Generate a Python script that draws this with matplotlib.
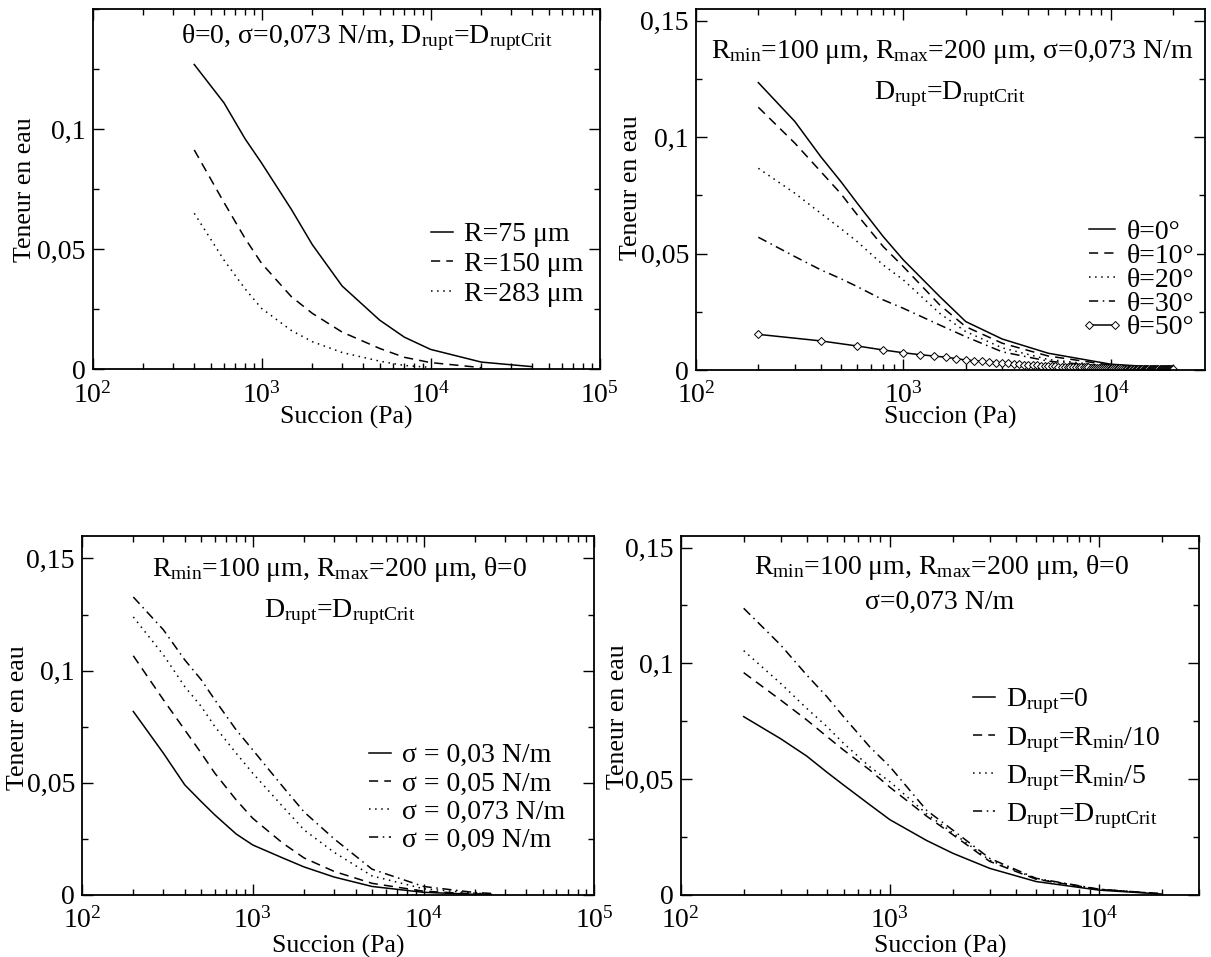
import matplotlib
matplotlib.use('Agg')
import matplotlib.pyplot as plt
from matplotlib.legend_handler import HandlerLine2D
from matplotlib.ticker import (FixedLocator, FuncFormatter, LogLocator,
                               LogFormatterMathtext, MultipleLocator, NullFormatter)

plt.rcParams['font.family'] = 'Liberation Serif'
plt.rcParams['mathtext.fontset'] = 'custom'
plt.rcParams['mathtext.rm'] = 'Liberation Serif'
plt.rcParams['mathtext.it'] = 'Liberation Serif:italic'
plt.rcParams['mathtext.bf'] = 'Liberation Serif:bold'

# ---- data ----
# panel 1: effect of the grain radius
suc_radius = [400, 600, 800, 1000, 1500, 2000, 3000, 5000, 7000, 10000, 20000, 40000]
w_r75 = [0.127, 0.111, 0.096, 0.086, 0.0667, 0.0519, 0.0347, 0.0205, 0.0134, 0.0083, 0.0030, 0.0011]
w_r150 = [0.0914, 0.0695, 0.0545, 0.0442, 0.0303, 0.0233, 0.0155, 0.0087, 0.0050, 0.0028, 0.0007]
w_r283 = [0.065, 0.0455, 0.0335, 0.0254, 0.0162, 0.0115, 0.0070, 0.0034, 0.0016, 0.0008]

# panel 2: effect of the contact angle
suc_theta = [200, 300, 400, 500, 600, 800, 1000, 1500, 2000, 3000, 5000, 10000, 20000]
w_t0 = [0.1234, 0.1067, 0.0916, 0.0809, 0.0716, 0.0573, 0.0473, 0.0315, 0.0208, 0.0133, 0.0072, 0.0025, 0.0008]
w_t10 = [0.1128, 0.0974, 0.0852, 0.0757, 0.0666, 0.0530, 0.0444, 0.0279, 0.0186, 0.0115, 0.0060, 0.0021, 0.0007]
w_t20 = [0.0866, 0.0759, 0.0673, 0.0607, 0.0551, 0.0451, 0.0387, 0.0243, 0.0165, 0.0095, 0.0045, 0.0016, 0.0005]
w_t30 = [0.0570, 0.0487, 0.0430, 0.0392, 0.0358, 0.0301, 0.0265, 0.0193, 0.0143, 0.0078, 0.0038, 0.0013, 0.0004]
suc_t50 = list(range(200, 20001, 200))
w_t50 = [0.0153, 0.0125, 0.0103, 0.0086, 0.0074, 0.0066, 0.0060, 0.0055, 0.0049, 0.0043,
         0.0040, 0.0037, 0.0034, 0.0032, 0.0030, 0.0028, 0.0026, 0.0025, 0.0023, 0.0022,
         0.0021, 0.0020, 0.0019, 0.0018, 0.0017, 0.0017, 0.0016, 0.0015, 0.0015, 0.0014,
         0.0014, 0.0013, 0.0013, 0.0012, 0.0012, 0.0012, 0.0011, 0.0011, 0.0011, 0.0010,
         0.0010, 0.0010, 0.0009, 0.0009, 0.0009, 0.0009, 0.0008, 0.0008, 0.0008, 0.0008,
         0.0008, 0.0007, 0.0007, 0.0007, 0.0007, 0.0007, 0.0006, 0.0006, 0.0006, 0.0006,
         0.0006, 0.0006, 0.0006, 0.0005, 0.0005, 0.0005, 0.0005, 0.0005, 0.0005, 0.0005,
         0.0005, 0.0005, 0.0004, 0.0004, 0.0004, 0.0004, 0.0004, 0.0004, 0.0004, 0.0004,
         0.0004, 0.0004, 0.0004, 0.0004, 0.0004, 0.0004, 0.0004, 0.0004, 0.0004, 0.0004,
         0.0004, 0.0004, 0.0003, 0.0003, 0.0003, 0.0003, 0.0003, 0.0003, 0.0003, 0.0003]

# panel 3: effect of surface tension
suc_sigma = [200, 300, 400, 500, 600, 800, 1000, 1500, 2000, 3000, 5000, 10000, 20000, 25000]
w_s03 = [0.0818, 0.0632, 0.0491, 0.0416, 0.0357, 0.0272, 0.0223, 0.0165, 0.0125, 0.0080, 0.0038, 0.0012, 0.0003, 0.0002]
w_s05 = [0.1066, 0.0870, 0.0736, 0.0632, 0.0543, 0.0424, 0.0342, 0.0231, 0.0165, 0.0105, 0.0052, 0.0017, 0.0005, 0.0003]
w_s073 = [0.1239, 0.1070, 0.0929, 0.0840, 0.0751, 0.0632, 0.0543, 0.0394, 0.0290, 0.0190, 0.0085, 0.0028, 0.0008, 0.0005]
w_s09 = [0.1328, 0.1182, 0.1048, 0.0959, 0.0870, 0.0736, 0.0647, 0.0483, 0.0370, 0.0250, 0.0115, 0.0038, 0.0011, 0.0007]

# panel 4: effect of the rupture distance
suc_drupt = [200, 300, 400, 500, 600, 800, 1000, 1500, 2000, 3000, 5000, 10000, 20000]
w_d0 = [0.0770, 0.0675, 0.0600, 0.0530, 0.0475, 0.0390, 0.0325, 0.0235, 0.0180, 0.0115, 0.0058, 0.0021, 0.0004]
w_d10 = [0.0960, 0.0842, 0.0756, 0.0684, 0.0626, 0.0540, 0.0465, 0.0340, 0.0260, 0.0145, 0.0068, 0.0024, 0.0005]
w_d5 = [0.1055, 0.0914, 0.0806, 0.0727, 0.0655, 0.0554, 0.0489, 0.0350, 0.0268, 0.0150, 0.0070, 0.0025, 0.0005]
w_dcrit = [0.1238, 0.1080, 0.0950, 0.0856, 0.0770, 0.0640, 0.0554, 0.0365, 0.0280, 0.0158, 0.0072, 0.0025, 0.0005]

# ---- styles ----
W, H = 1211, 957
LW = 1.1
FS = 20
SOLID = '-'
DASHED = (0, (6, 4))
DOTTED = (0, (1, 3))
DASHDOT = (0, (6, 3, 1, 3))

fig = plt.figure(figsize=(W / 100, H / 100), dpi=100)


def px_axes(left, top, right, bottom):
    return fig.add_axes([left / W, 1 - bottom / H, (right - left) / W, (bottom - top) / H])


def comma(v, pos):
    if abs(v) < 1e-12:
        return '0'
    return ('%g' % v).replace('.', ',')


def style_axes(ax, xmax, ymax, yticks):
    ax.set_xscale('log')
    ax.set_xlim(100, xmax)
    ax.set_ylim(0, ymax)
    ax.xaxis.set_major_locator(LogLocator(base=10))
    ax.xaxis.set_minor_locator(LogLocator(base=10, subs=range(2, 10)))
    ax.xaxis.set_major_formatter(LogFormatterMathtext())
    ax.xaxis.set_minor_formatter(NullFormatter())
    ax.yaxis.set_major_locator(FixedLocator(yticks))
    ax.yaxis.set_minor_locator(MultipleLocator(0.025))
    ax.yaxis.set_major_formatter(FuncFormatter(comma))
    ax.tick_params(which='both', direction='in', top=True, right=True, labelsize=FS, width=1)
    ax.tick_params(which='major', length=8)
    ax.tick_params(which='minor', length=4)
    ax.tick_params(axis='x', pad=9)
    ax.tick_params(axis='y', pad=5)
    for s in ax.spines.values():
        s.set_linewidth(1.3)


def fig_text(x, y, s, size=FS, **kw):
    fig.text(x / W, 1 - y / H, s, ha='center', va='center', fontsize=size, **kw)


def legend(ax, x, y, spacing, hlen=0.8, **kw):
    ax.legend(loc='upper left', bbox_to_anchor=(x / W, 1 - y / H), bbox_transform=fig.transFigure,
              fontsize=FS, handlelength=hlen, handletextpad=0.4, labelspacing=spacing,
              borderpad=0.1, borderaxespad=0, frameon=True, fancybox=False,
              edgecolor='none', facecolor='white', framealpha=1, **kw)


# panel 1
ax1 = px_axes(92.5, 9.3, 599.5, 369.3)
ax1.plot(suc_radius[:len(w_r75)], w_r75, color='k', lw=LW, ls=SOLID, label='R=75 μm')
ax1.plot(suc_radius[:len(w_r150)], w_r150, color='k', lw=LW, ls=DASHED, label='R=150 μm')
ax1.plot(suc_radius[:len(w_r283)], w_r283, color='k', lw=LW, ls=DOTTED, label='R=283 μm')
style_axes(ax1, 1e5, 0.15, [0, 0.05, 0.1])
legend(ax1, 428, 219, 0.16)
fig_text(367, 38, 'θ=0, σ=0,073 N/m, D$_{\\mathrm{rupt}}$=D$_{\\mathrm{ruptCrit}}$')

# panel 2
ax2 = px_axes(695.9, 9, 1205, 370)
ax2.plot(suc_theta, w_t0, color='k', lw=LW, ls=SOLID, label='θ=0°')
ax2.plot(suc_theta, w_t10, color='k', lw=LW, ls=DASHED, label='θ=10°')
ax2.plot(suc_theta, w_t20, color='k', lw=LW, ls=DOTTED, label='θ=20°')
ax2.plot(suc_theta, w_t30, color='k', lw=LW, ls=DASHDOT, label='θ=30°')
line50, = ax2.plot(suc_t50, w_t50, color='k', lw=LW, ls=SOLID, marker='D', markersize=4.5,
                   mfc='white', mec='k', mew=0.7, label='θ=50°')
style_axes(ax2, 2.85e4, 0.155, [0, 0.05, 0.1, 0.15])
legend(ax2, 1086, 217, -0.06, hlen=0.95,
       handler_map={line50: HandlerLine2D(numpoints=2, marker_pad=0.0)})
fig_text(952, 52, 'R$_{\\mathrm{min}}$=100 μm, R$_{\\mathrm{max}}$=200 μm, σ=0,073 N/m')
fig_text(950, 94, 'D$_{\\mathrm{rupt}}$=D$_{\\mathrm{ruptCrit}}$')

# panel 3
ax3 = px_axes(81.9, 536, 594.3, 895)
ax3.plot(suc_sigma, w_s03, color='k', lw=LW, ls=SOLID, label='σ = 0,03 N/m')
ax3.plot(suc_sigma, w_s05, color='k', lw=LW, ls=DASHED, label='σ = 0,05 N/m')
ax3.plot(suc_sigma, w_s073, color='k', lw=LW, ls=DOTTED, label='σ = 0,073 N/m')
ax3.plot(suc_sigma, w_s09, color='k', lw=LW, ls=DASHDOT, label='σ = 0,09 N/m')
style_axes(ax3, 1e5, 0.16, [0, 0.05, 0.1, 0.15])
legend(ax3, 366, 740, 0.1)
fig_text(340, 569, 'R$_{\\mathrm{min}}$=100 μm, R$_{\\mathrm{max}}$=200 μm, θ=0')
fig_text(340, 612, 'D$_{\\mathrm{rupt}}$=D$_{\\mathrm{ruptCrit}}$')

# panel 4
ax4 = px_axes(680.7, 536, 1199, 895)
ax4.plot(suc_drupt, w_d0, color='k', lw=LW, ls=SOLID, label='D$_{\\mathrm{rupt}}$=0')
ax4.plot(suc_drupt, w_d10, color='k', lw=LW, ls=DASHED,
         label='D$_{\\mathrm{rupt}}$=R$_{\\mathrm{min}}$/10')
ax4.plot(suc_drupt, w_d5, color='k', lw=LW, ls=DOTTED,
         label='D$_{\\mathrm{rupt}}$=R$_{\\mathrm{min}}$/5')
ax4.plot(suc_drupt, w_dcrit, color='k', lw=LW, ls=DASHDOT,
         label='D$_{\\mathrm{rupt}}$=D$_{\\mathrm{ruptCrit}}$')
style_axes(ax4, 3e4, 0.155, [0, 0.05, 0.1, 0.15])
legend(ax4, 970, 684, 0.3)
fig_text(942, 567, 'R$_{\\mathrm{min}}$=100 μm, R$_{\\mathrm{max}}$=200 μm, θ=0')
fig_text(940, 602, 'σ=0,073 N/m')

# axis titles
for cx, cy in [(346, 417), (950, 417), (338, 946), (940, 946)]:
    fig_text(cx, cy, 'Succion (Pa)', size=18.5)
for cx, cy in [(25, 190), (631, 188), (18, 718), (618, 717)]:
    fig_text(cx, cy, 'Teneur en eau', size=18.5, rotation=90)

fig.savefig('out.png', dpi=100)
